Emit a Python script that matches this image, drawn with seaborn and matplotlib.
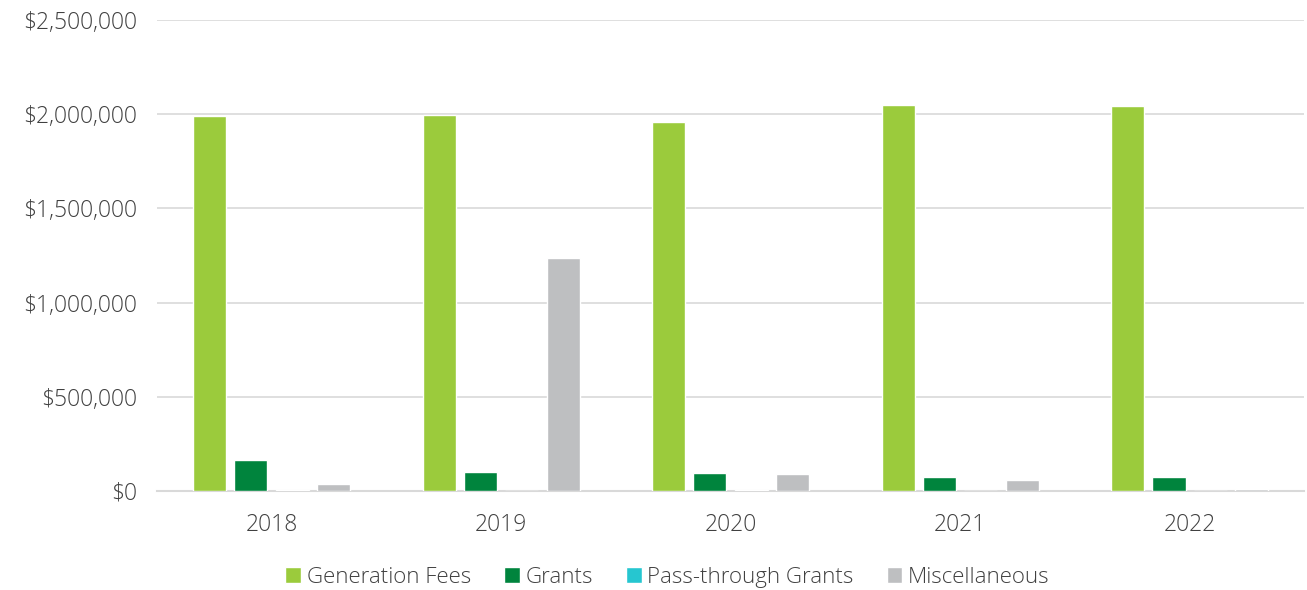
import numpy as np
import pandas as pd
import matplotlib
matplotlib.use('Agg')
import matplotlib.pyplot as plt
import matplotlib.ticker as mticker
import seaborn as sns

years = ['2018', '2019', '2020', '2021', '2022']
generation_fees = [1988000, 1998000, 1961000, 2050000, 2046000]
grants = [164000, 98000, 97000, 75000, 75000]
pass_through = [5000, 0, 4000, 0, 0]
miscellaneous = [38000, 1238000, 88000, 59000, 12000]

series = ['Generation Fees', 'Grants', 'Pass-through Grants', 'Miscellaneous']
colors = ['#9BCB3C', '#00843D', '#26C6D0', '#BEBFC1']

df = pd.DataFrame({'year': years,
                   'Generation Fees': generation_fees,
                   'Grants': grants,
                   'Pass-through Grants': pass_through,
                   'Miscellaneous': miscellaneous})
df = df.melt(id_vars='year', var_name='source', value_name='amount')

sns.set_style('white')
plt.rcParams['font.family'] = ['Open Sans', 'DejaVu Sans']
plt.rcParams['font.weight'] = 'light'

fig, ax = plt.subplots(figsize=(13.07, 5.9), dpi=100)
fig.subplots_adjust(left=0.12, right=0.998, top=0.966, bottom=0.168)

sns.barplot(data=df, x='year', y='amount', hue='source', hue_order=series,
            palette=colors, saturation=1, width=0.72, gap=0.2, ax=ax, zorder=3)

ax.set_ylim(0, 2500000)
ax.set_xlim(-0.5, 4.5)
ax.yaxis.set_major_locator(mticker.MultipleLocator(500000))
ax.yaxis.set_major_formatter(mticker.FuncFormatter(lambda v, p: '${:,.0f}'.format(v)))
ax.grid(axis='y', color='#D9D9D9', linewidth=1.2, zorder=0)
ax.set_axisbelow(True)
for s in ['top', 'right', 'left']:
    ax.spines[s].set_visible(False)
ax.spines['bottom'].set_color('#D9D9D9')
ax.spines['bottom'].set_linewidth(1.5)
ax.tick_params(axis='both', length=0, labelsize=16.5, colors='#404040', pad=14)
ax.tick_params(axis='x', pad=16)
ax.set_xlabel('')
ax.set_ylabel('')

ax.legend(loc='center', bbox_to_anchor=(0.445, -0.183), ncol=4, frameon=False,
          fontsize=16, handlelength=0.7, handleheight=0.7, handletextpad=0.25,
          columnspacing=1.5, labelcolor='#404040')

fig.savefig('out.png', dpi=100)
